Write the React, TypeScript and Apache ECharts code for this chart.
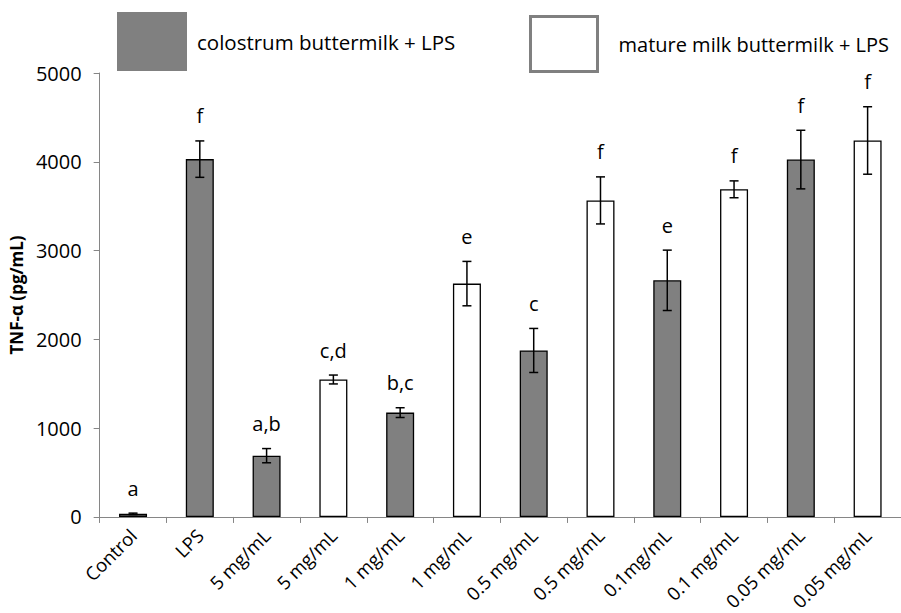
import React, { useEffect, useRef } from "react";
import * as echarts from "echarts";

const categories = [
  "Control",
  "LPS",
  "5 mg/mL",
  "5 mg/mL",
  "1 mg/mL",
  "1 mg/mL",
  "0.5 mg/mL",
  "0.5 mg/mL",
  "0.1mg/mL",
  "0.1 mg/mL",
  "0.05 mg/mL",
  "0.05 mg/mL",
];
const colostrum: (number | string)[] = [35, 4030, 690, "-", 1175, "-", 1875, "-", 2665, "-", 4025, "-"];
const mature: (number | string)[] = ["-", "-", "-", 1548, "-", 2628, "-", 3565, "-", 3690, "-", 4240];
const means = [35, 4030, 690, 1548, 1175, 2628, 1875, 3565, 2665, 3690, 4025, 4240];
const errors = [8, 205, 80, 50, 55, 250, 248, 265, 340, 95, 330, 380];
const letters = ["a", "f", "a,b", "c,d", "b,c", "e", "c", "f", "e", "f", "f", "f"];
const yTicks = [0, 1000, 2000, 3000, 4000, 5000];

const FONT = "'Open Sans', sans-serif";

export default function App() {
  const ref = useRef<HTMLDivElement>(null);
  useEffect(() => {
    if (!ref.current) return;
    const chart = echarts.init(ref.current, undefined, { renderer: "svg" });
    const errData = means.map((m, i) => [i, m, errors[i]]);
    chart.setOption({
      animation: false,
      backgroundColor: "#fff",
      legend: [
        {
          left: 117,
          top: 12,
          padding: 0,
          itemWidth: 70,
          itemHeight: 59,
          selectedMode: false,
          data: [
            {
              name: "colostrum buttermilk + LPS",
              icon: "rect",
              itemStyle: { color: "#808080", borderWidth: 0 },
            },
          ],
          textStyle: { fontFamily: FONT, fontSize: 20.5, color: "#000", padding: [0, 0, 0, 5] },
        },
        {
          left: 529,
          top: 15,
          padding: 0,
          itemWidth: 67,
          itemHeight: 55,
          selectedMode: false,
          data: [
            {
              name: "mature milk buttermilk + LPS",
              icon: "rect",
              itemStyle: { color: "#fff", borderColor: "#808080", borderWidth: 3 },
            },
          ],
          textStyle: { fontFamily: FONT, fontSize: 20, color: "#000", padding: [0, 0, 0, 16] },
        },
      ],
      grid: { left: 96, top: 73, width: 813, height: 449, containLabel: false },
      xAxis: {
        type: "category",
        data: categories,
        axisLine: { lineStyle: { color: "#868686", width: 1 } },
        axisTick: { show: true, length: 6, lineStyle: { color: "#868686" } },
        axisLabel: {
          rotate: 45,
          margin: 15,
          fontFamily: FONT,
          fontSize: 18.5,
          color: "#000",
          interval: 0,
        },
      },
      yAxis: {
        type: "value",
        min: 0,
        max: 5000,
        interval: 1000,
        name: "TNF-α (pg/mL)",
        nameLocation: "middle",
        nameGap: 69,
        nameTextStyle: { fontFamily: FONT, fontSize: 17, fontWeight: "bold", color: "#000" },
        axisLine: { show: true, lineStyle: { color: "#868686", width: 1 } },
        axisTick: { show: true, length: 6, lineStyle: { color: "#868686" } },
        splitLine: { show: false },
        axisLabel: {
          margin: 18,
          fontFamily: FONT,
          fontSize: 20,
          color: "#000",
          formatter: (v: number) => (yTicks.includes(v) ? String(v) : ""),
        },
      },
      series: [
        {
          name: "colostrum buttermilk + LPS",
          type: "bar",
          stack: "all",
          barWidth: 28,
          data: colostrum,
          itemStyle: { color: "#808080", borderColor: "#000", borderWidth: 1.3 },
        },
        {
          name: "mature milk buttermilk + LPS",
          type: "bar",
          stack: "all",
          barWidth: 28,
          data: mature,
          itemStyle: { color: "#fff", borderColor: "#000", borderWidth: 1.3 },
        },
        {
          type: "custom",
          name: "err",
          data: errData,
          encode: { x: 0, y: 1 },
          z: 10,
          renderItem: (params: any, api: any) => {
            const x = api.value(0);
            const v = api.value(1);
            const e = api.value(2);
            const top = api.coord([x, v + e]);
            const bot = api.coord([x, v - e]);
            const hw = 4.5;
            const st = { stroke: "#000", lineWidth: 1.5 };
            return {
              type: "group",
              children: [
                { type: "line", shape: { x1: top[0], y1: top[1], x2: bot[0], y2: bot[1] }, style: st },
                { type: "line", shape: { x1: top[0] - hw, y1: top[1], x2: top[0] + hw, y2: top[1] }, style: st },
                { type: "line", shape: { x1: bot[0] - hw, y1: bot[1], x2: bot[0] + hw, y2: bot[1] }, style: st },
                {
                  type: "text",
                  style: {
                    text: letters[params.dataIndex],
                    x: top[0],
                    y: top[1] - 25,
                    align: "center",
                    verticalAlign: "middle",
                    fontFamily: FONT,
                    fontSize: 20,
                    fill: "#000",
                  },
                },
              ],
            };
          },
        },
      ],
    });
    return () => chart.dispose();
  }, []);
  return (
    <div
      ref={ref}
      style={{ position: "absolute", left: 0, top: 0, width: 901, height: 613 }}
    />
  );
}
